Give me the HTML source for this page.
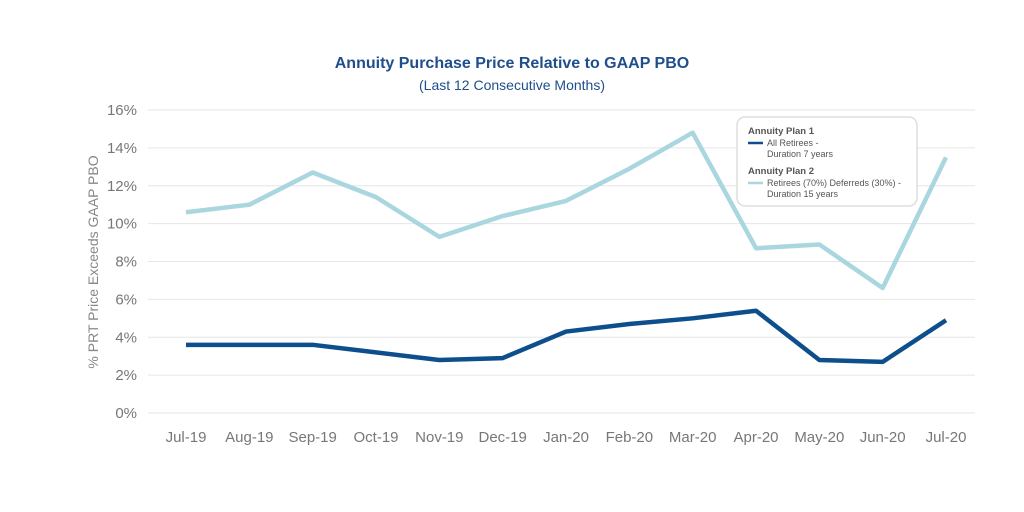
<!DOCTYPE html>
<html><head><meta charset="utf-8"><style>
body{margin:0;background:#fff;font-family:"Liberation Sans",sans-serif}
svg{display:block}
</style></head><body>
<svg id="chart" width="1024" height="512">
<text x="512" y="68" text-anchor="middle" font-size="16" font-weight="bold" fill="#1f4e8c">Annuity Purchase Price Relative to GAAP PBO</text>
<text x="512" y="90" text-anchor="middle" font-size="14" fill="#1f4e8c">(Last 12 Consecutive Months)</text>
<text transform="translate(98,262) rotate(-90)" text-anchor="middle" font-size="14" fill="#888">% PRT Price Exceeds GAAP PBO</text>
<g id="grid"></g><g id="yticks"></g><g id="xticks"></g><g id="lines"></g>
<g>
<rect x="737" y="117" width="180" height="89" rx="8" fill="#fff" stroke="#ddd" stroke-width="1.5"/>
<text x="748" y="134" font-size="9.5" font-weight="bold" fill="#555">Annuity Plan 1</text>
<line x1="748" x2="763" y1="143" y2="143" stroke="#0d4f8c" stroke-width="2.5"/>
<text x="767" y="146" font-size="9" fill="#555">All Retirees -</text>
<text x="767" y="157" font-size="9" fill="#555">Duration 7 years</text>
<text x="748" y="174" font-size="9.5" font-weight="bold" fill="#555">Annuity Plan 2</text>
<line x1="748" x2="763" y1="183" y2="183" stroke="#a9d6df" stroke-width="2.5"/>
<text x="767" y="186" font-size="9" fill="#555">Retirees (70%) Deferreds (30%) -</text>
<text x="767" y="197" font-size="9" fill="#555">Duration 15 years</text>
</g>
</svg>
<script>
const categories=["Jul-19","Aug-19","Sep-19","Oct-19","Nov-19","Dec-19","Jan-20","Feb-20","Mar-20","Apr-20","May-20","Jun-20","Jul-20"];
const plan1=[3.6,3.6,3.6,3.2,2.8,2.9,4.3,4.7,5.0,5.4,2.8,2.7,4.9];
const plan2=[10.6,11.0,12.7,11.4,9.3,10.4,11.2,12.9,14.8,8.7,8.9,6.6,13.5];
const yTicks=[0,2,4,6,8,10,12,14,16];
const NS="http://www.w3.org/2000/svg";
const x=i=>186+i*(946-186)/(categories.length-1);
const y=v=>413-v*(413-110)/16;
function mk(t,a,p,txt){const e=document.createElementNS(NS,t);for(const k in a)e.setAttribute(k,a[k]);if(txt!=null)e.textContent=txt;document.getElementById(p).appendChild(e);return e;}
yTicks.forEach(v=>{
 const g=mk("line",{x1:148,x2:975,y1:y(v),y2:y(v),stroke:"#e6e6e6","stroke-width":1},"grid");
 
 
 const t=mk("text",{x:137,y:y(v)+5,"text-anchor":"end","font-size":15,fill:"#777"},"yticks",v+"%");
 
 
});
categories.forEach((c,i)=>{
 const t=mk("text",{x:x(i),y:442,"text-anchor":"middle","font-size":15,fill:"#777"},"xticks",c);
 
 
});
function line(d,col,name){
 const p=mk("polyline",{points:d.map((v,i)=>x(i)+","+y(v)).join(" "),fill:"none",stroke:col,"stroke-width":4.5,"stroke-linejoin":"round"},"lines");
 
 
}
line(plan2,"#a9d6df","plan2-line");
line(plan1,"#0d4f8c","plan1-line");
</script>
</body></html>
